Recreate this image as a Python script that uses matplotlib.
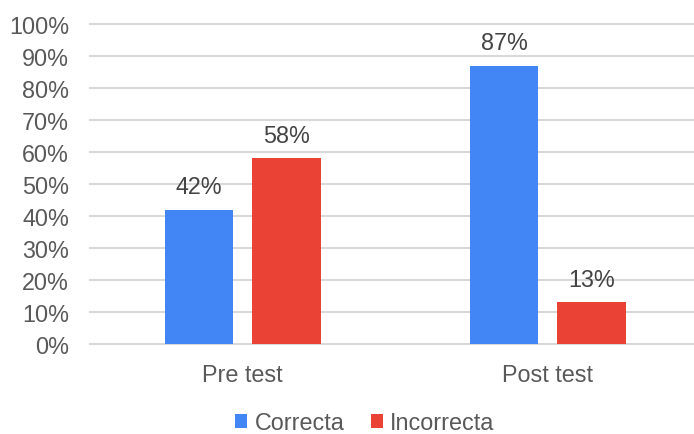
import numpy as np
import matplotlib.pyplot as plt
from matplotlib.patches import Patch

plt.rcParams['font.family'] = ['Liberation Sans', 'DejaVu Sans']

groups = ['Pre test', 'Post test']
series_names = ['Correcta', 'Incorrecta']
correcta = [0.42, 0.87]
incorrecta = [0.58, 0.13]
colors = ['#4285F4', '#EA4335']
text_color = '#595959'

fig = plt.figure(figsize=(6.94, 4.35), dpi=100)
ax = fig.add_axes([90 / 694, 90 / 435, 604 / 694, 320 / 435])

x = np.arange(len(groups))
width = 0.226
offset = 0.1434

for vals, off, col in [(correcta, -offset, colors[0]), (incorrecta, offset, colors[1])]:
    bars = ax.bar(x + off, vals, width, color=col, zorder=3)
    for b, v in zip(bars, vals):
        ax.annotate('%d%%' % round(v * 100), (b.get_x() + b.get_width() / 2, v),
                    xytext=(0, 16.5), textcoords='offset points',
                    ha='center', va='center', fontsize=16.8, color='#444444')

ax.set_xlim(-0.5008, 1.4795)
ax.set_ylim(0, 1)
ax.set_yticks(np.arange(0, 1.01, 0.1))
ax.set_yticklabels(['%d%%' % v for v in range(0, 101, 10)])
ax.set_xticks(x)
ax.set_xticklabels(groups)
ax.tick_params(axis='y', length=0, pad=15, labelsize=16.8, labelcolor=text_color)
ax.tick_params(axis='x', length=0, pad=14, labelsize=16.8, labelcolor=text_color)

ax.grid(axis='y', color='#d9d9d9', linewidth=1.5, zorder=0)
for line in ax.get_ygridlines():
    line.set_clip_on(False)
for s in ax.spines.values():
    s.set_visible(False)

handles = [Patch(facecolor=c, label=n) for c, n in zip(colors, series_names)]
fig.legend(handles=handles, loc='center', bbox_to_anchor=(365 / 694, 1 - 424 / 435),
           ncol=2, frameon=False, fontsize=16.8, labelcolor=text_color,
           handlelength=0.52, handleheight=0.52, handletextpad=0.3, columnspacing=1.15)

fig.savefig('out.png', dpi=100)
